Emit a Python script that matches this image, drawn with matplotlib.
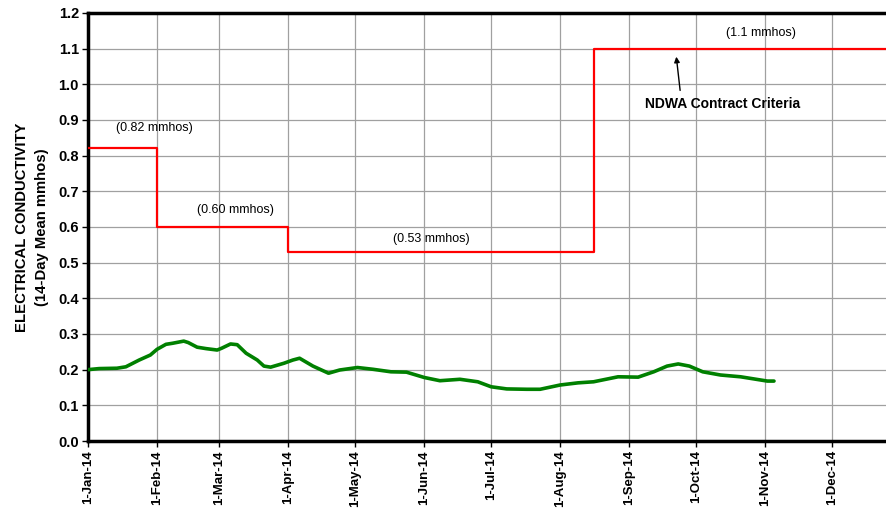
import matplotlib
matplotlib.use('Agg')
import matplotlib.pyplot as plt
import pandas as pd

plt.rcParams['font.family'] = 'Liberation Sans'

# Contract criteria (step line)
criteria_dates = ['2014-01-01', '2014-02-01', '2014-02-01', '2014-04-01', '2014-04-01',
                  '2014-08-16', '2014-08-16', '2014-12-31']
criteria_vals = [0.82, 0.82, 0.60, 0.60, 0.53, 0.53, 1.10, 1.10]

# 14-day mean electrical conductivity (days since 1-Jan-14)
ec_days = [0, 5, 13, 17, 23, 28, 31, 35, 38, 43, 45, 49, 53, 58, 60, 64, 67, 71, 76, 79, 82,
           88, 92, 95, 101, 108, 113, 121, 128, 136, 143, 151, 158, 167, 175, 181, 188, 197,
           203, 212, 220, 227, 238, 247, 254, 260, 265, 270, 276, 284, 293, 299, 305, 308]
ec_vals = [0.200, 0.203, 0.204, 0.208, 0.227, 0.241, 0.257, 0.271, 0.274, 0.280, 0.276, 0.263,
           0.259, 0.255, 0.260, 0.272, 0.270, 0.246, 0.227, 0.210, 0.207, 0.218, 0.227, 0.232,
           0.210, 0.190, 0.199, 0.206, 0.201, 0.194, 0.193, 0.178, 0.169, 0.173, 0.166, 0.152,
           0.146, 0.145, 0.145, 0.157, 0.163, 0.166, 0.180, 0.179, 0.194, 0.210, 0.216, 0.210,
           0.194, 0.185, 0.180, 0.174, 0.168, 0.168]

tick_dates = ['2014-01-01', '2014-02-01', '2014-03-01', '2014-04-01', '2014-05-01', '2014-06-01',
              '2014-07-01', '2014-08-01', '2014-09-01', '2014-10-01', '2014-11-01', '2014-12-01']
tick_labels = ['1-Jan-14', '1-Feb-14', '1-Mar-14', '1-Apr-14', '1-May-14', '1-Jun-14',
               '1-Jul-14', '1-Aug-14', '1-Sep-14', '1-Oct-14', '1-Nov-14', '1-Dec-14']

start = pd.Timestamp('2014-01-01')
ec_dates = [start + pd.Timedelta(days=d) for d in ec_days]
crit_x = pd.to_datetime(criteria_dates)
ticks_x = pd.to_datetime(tick_dates)

fig = plt.figure(figsize=(8.86, 5.17), dpi=100)
ax = fig.add_axes([0.0993, 0.147, 0.905, 0.828])

ax.plot(crit_x, criteria_vals, color='#ff0000', linewidth=1.6, zorder=3)
ax.plot(ec_dates, ec_vals, color='#008000', linewidth=2.6, zorder=3,
        solid_joinstyle='round', solid_capstyle='round')

ax.set_xlim(start, pd.Timestamp('2014-12-27'))
ax.set_ylim(0, 1.2)
ax.set_yticks([i / 10 for i in range(13)])
ax.set_yticklabels([f'{i / 10:.1f}' for i in range(13)], fontsize=10.5, fontweight='bold')
ax.set_xticks(ticks_x)
ax.set_xticklabels(tick_labels, rotation=90, fontsize=9.5, fontweight='bold')
ax.tick_params(axis='both', length=4.5, width=1, pad=2)

ax.grid(True, color='#a0a0a0', linewidth=0.9)
ax.set_axisbelow(True)
for side in ['left', 'bottom', 'top']:
    ax.spines[side].set_linewidth(2.5)
ax.spines['right'].set_visible(False)

ax.set_ylabel('ELECTRICAL CONDUCTIVITY\n(14-Day Mean mmhos)', fontsize=10.7,
              fontweight='bold', labelpad=7, linespacing=1.5)

def d(n):
    return start + pd.Timedelta(days=n)

ax.text(d(30), 0.877, '(0.82 mmhos)', ha='center', va='center', fontsize=9)
ax.text(d(66), 0.648, '(0.60 mmhos)', ha='center', va='center', fontsize=9)
ax.text(d(154), 0.566, '(0.53 mmhos)', ha='center', va='center', fontsize=9)
ax.text(d(302), 1.144, '(1.1 mmhos)', ha='center', va='center', fontsize=9)
ax.annotate('', xy=(d(264), 1.085), xytext=(d(266), 0.975),
            arrowprops=dict(arrowstyle='-|>', color='black', lw=1, mutation_scale=8))
ax.text(d(285), 0.945, 'NDWA Contract Criteria', ha='center', va='center',
        fontsize=10, fontweight='bold')

plt.savefig('out.png', dpi=100)
